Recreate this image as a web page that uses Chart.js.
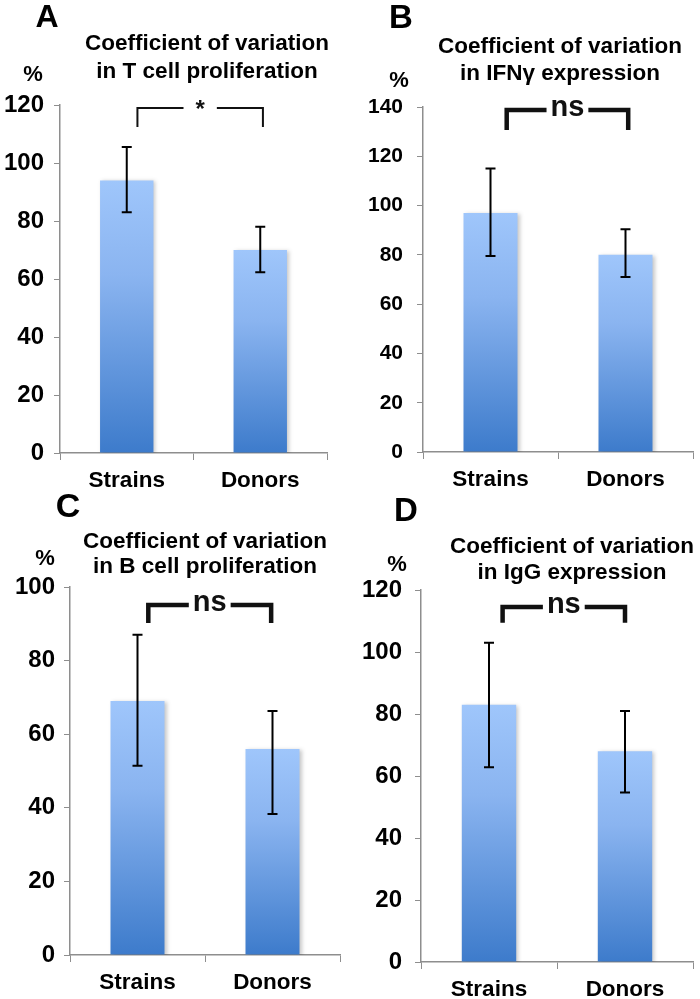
<!DOCTYPE html>
<html>
<head>
<meta charset="utf-8">
<script src="https://cdn.jsdelivr.net/npm/chart.js@4.4.0/dist/chart.umd.min.js"></script>
<style>
  body { margin: 0; background: #fff; }
  #fig { position: relative; width: 700px; height: 999px; }
  .panel { position: absolute; }
</style>
</head>
<body>
<div id="fig">
  <div class="panel" style="left:0;top:0;width:350px;height:490px"><canvas id="chartA"></canvas></div>
  <div class="panel" style="left:350px;top:0;width:350px;height:490px"><canvas id="chartB"></canvas></div>
  <div class="panel" style="left:0;top:490px;width:350px;height:509px"><canvas id="chartC"></canvas></div>
  <div class="panel" style="left:350px;top:490px;width:350px;height:509px"><canvas id="chartD"></canvas></div>
</div>
<script>
// groups on the x axis
const categories = ['Strains', 'Donors'];

// A - T cell proliferation
const tCellCv = [94, 70];
const tCellHigh = [105.5, 78];
const tCellLow = [83, 62.3];
const tCellTicks = [0, 20, 40, 60, 80, 100, 120];

// B - IFNg expression
const ifnCv = [97, 80];
const ifnHigh = [115, 90.4];
const ifnLow = [79.5, 71];
const ifnTicks = [0, 20, 40, 60, 80, 100, 120, 140];

// C - B cell proliferation
const bCellCv = [69, 56];
const bCellHigh = [87, 66.3];
const bCellLow = [51.4, 38.3];
const bCellTicks = [0, 20, 40, 60, 80, 100];

// D - IgG expression
const iggCv = [83, 68];
const iggHigh = [103, 81];
const iggLow = [62.8, 54.7];
const iggTicks = [0, 20, 40, 60, 80, 100, 120];

const FONT = "'Liberation Sans', Arial, sans-serif";
const AXIS_GREY = '#8e8e8e';

// vertical gradient per bar, light at the top, dark at the base
function barGradient(context) {
  const chart = context.chart;
  const y = chart.scales.y;
  if (!chart.chartArea || !y) return '#6a9be0';
  const top = y.getPixelForValue(context.dataset.data[context.dataIndex]);
  const base = y.getPixelForValue(0);
  const g = chart.ctx.createLinearGradient(0, top, 0, base);
  g.addColorStop(0, '#9fc6fb');
  g.addColorStop(0.35, '#8ab4f0');
  g.addColorStop(1, '#3d7bcb');
  return g;
}

const barShadow = {
  id: 'barShadow',
  beforeDatasetDraw(chart) {
    const ctx = chart.ctx;
    ctx.save();
    ctx.shadowColor = 'rgba(0,0,0,0.22)';
    ctx.shadowBlur = 4;
    ctx.shadowOffsetX = 2;
    ctx.shadowOffsetY = 1;
  },
  afterDatasetDraw(chart) {
    chart.ctx.restore();
  }
};

const errorBars = {
  id: 'errorBars',
  afterDatasetsDraw(chart, args, opts) {
    const ctx = chart.ctx;
    const y = chart.scales.y;
    const meta = chart.getDatasetMeta(0);
    ctx.save();
    ctx.strokeStyle = '#000';
    ctx.lineWidth = 2;
    meta.data.forEach((bar, i) => {
      const hi = y.getPixelForValue(opts.high[i]);
      const lo = y.getPixelForValue(opts.low[i]);
      ctx.beginPath();
      ctx.moveTo(bar.x, hi);
      ctx.lineTo(bar.x, lo);
      ctx.moveTo(bar.x - 5, hi);
      ctx.lineTo(bar.x + 5, hi);
      ctx.moveTo(bar.x - 5, lo);
      ctx.lineTo(bar.x + 5, lo);
      ctx.stroke();
    });
    ctx.restore();
  }
};

// significance bracket between the two bars
const bracket = {
  id: 'bracket',
  afterDraw(chart, args, opts) {
    const ctx = chart.ctx;
    const x = chart.scales.x;
    const y = chart.scales.y;
    const x1 = x.getPixelForValue(opts.from);
    const x2 = x.getPixelForValue(opts.to);
    const yTop = y.getPixelForValue(opts.top);
    const yBot = y.getPixelForValue(opts.bottom);
    const mid = (x1 + x2) / 2;
    ctx.save();
    ctx.font = 'bold ' + opts.fontSize + 'px ' + FONT;
    const w = ctx.measureText(opts.label).width;
    ctx.strokeStyle = '#111';
    ctx.lineWidth = opts.lineWidth;
    ctx.lineCap = 'butt';
    ctx.beginPath();
    ctx.moveTo(x1, yBot);
    ctx.lineTo(x1, yTop);
    ctx.lineTo(mid - w / 2 - opts.gap, yTop);
    ctx.moveTo(mid + w / 2 + opts.gap, yTop);
    ctx.lineTo(x2, yTop);
    ctx.lineTo(x2, yBot);
    ctx.stroke();
    ctx.fillStyle = '#111';
    ctx.textAlign = 'center';
    ctx.textBaseline = 'middle';
    ctx.fillText(opts.label, mid, yTop + opts.labelShift);
    ctx.restore();
  }
};

// panel letter, unit and two-line title
const panelText = {
  id: 'panelText',
  afterDraw(chart, args, opts) {
    const ctx = chart.ctx;
    ctx.save();
    ctx.fillStyle = '#000';
    ctx.textAlign = 'center';
    ctx.textBaseline = 'middle';
    ctx.font = 'bold ' + opts.letterSize + 'px ' + FONT;
    ctx.fillText(opts.letter, opts.letterX, opts.letterY);
    ctx.font = 'bold 22px ' + FONT;
    ctx.fillText('%', opts.unitX, opts.unitY);
    ctx.font = 'bold 22.5px ' + FONT;
    opts.title.forEach((line, i) => {
      ctx.fillText(line, opts.titleX, opts.titleY[i]);
    });
    ctx.restore();
  }
};

function makePanel(id, p) {
  new Chart(document.getElementById(id), {
    type: 'bar',
    data: {
      labels: categories,
      datasets: [{
        data: p.values,
        backgroundColor: barGradient,
        borderWidth: 0,
        categoryPercentage: 1,
        barPercentage: 0.4
      }]
    },
    options: {
      responsive: true,
      maintainAspectRatio: false,
      animation: false,
      layout: { padding: p.padding },
      plugins: {
        legend: { display: false },
        tooltip: { enabled: false },
        errorBars: { high: p.high, low: p.low },
        bracket: p.bracket,
        panelText: p.text
      },
      scales: {
        x: {
          afterFit: (scale) => { scale.height = 34; },
          grid: {
            offset: true,
            drawOnChartArea: false,
            drawTicks: true,
            tickLength: 7,
            color: AXIS_GREY
          },
          border: { color: AXIS_GREY, width: 1.5 },
          ticks: {
            color: '#000',
            padding: 7,
            font: { family: FONT, size: 22.5, weight: 'bold' }
          }
        },
        y: {
          min: 0,
          max: p.ticks[p.ticks.length - 1],
          afterFit: (scale) => { scale.width = p.yWidth; },
          afterBuildTicks: (scale) => { scale.ticks = p.ticks.map(v => ({ value: v })); },
          grid: {
            drawOnChartArea: false,
            drawTicks: true,
            tickLength: 6,
            color: AXIS_GREY
          },
          border: { color: AXIS_GREY, width: 1.5 },
          ticks: {
            color: '#000',
            padding: p.tickPad,
            font: { family: FONT, size: p.tickSize, weight: 'bold' }
          }
        }
      }
    },
    plugins: [barShadow, errorBars, bracket, panelText]
  });
}

makePanel('chartA', {
  values: tCellCv, high: tCellHigh, low: tCellLow, ticks: tCellTicks,
  yWidth: 60, tickPad: 10, tickSize: 24,
  padding: { left: 0, top: 105, right: 23, bottom: 3 },
  bracket: { from: 0.08, to: 1.02, top: 119, bottom: 112.4, label: '*', fontSize: 24,
             lineWidth: 2, gap: 12, labelShift: 2 },
  text: { letter: 'A', letterSize: 32, letterX: 47, letterY: 18, unitX: 33, unitY: 75,
          title: ['Coefficient of variation', 'in T cell proliferation'], titleX: 207, titleY: [44, 72] }
});

makePanel('chartB', {
  values: ifnCv, high: ifnHigh, low: ifnLow, ticks: ifnTicks,
  yWidth: 73, tickPad: 14, tickSize: 21,
  padding: { left: 0, top: 107, right: 7, bottom: 4 },
  bracket: { from: 0.12, to: 1.02, top: 138.8, bottom: 130.7, label: 'ns', fontSize: 29,
             lineWidth: 4.5, gap: 4, labelShift: -2 },
  text: { letter: 'B', letterSize: 33, letterX: 51, letterY: 19, unitX: 49, unitY: 81,
          title: ['Coefficient of variation', 'in IFN\u03b3 expression'], titleX: 210, titleY: [47, 74] }
});

makePanel('chartC', {
  values: bCellCv, high: bCellHigh, low: bCellLow, ticks: bCellTicks,
  yWidth: 70, tickPad: 9, tickSize: 24,
  padding: { left: 0, top: 97, right: 10, bottom: 10 },
  bracket: { from: 0.08, to: 0.99, top: 95.1, bottom: 90.2, label: 'ns', fontSize: 29,
             lineWidth: 4.5, gap: 4, labelShift: -2 },
  text: { letter: 'C', letterSize: 34, letterX: 68, letterY: 18, unitX: 45, unitY: 69,
          title: ['Coefficient of variation', 'in B cell proliferation'], titleX: 205, titleY: [52, 77] }
});

makePanel('chartD', {
  values: iggCv, high: iggHigh, low: iggLow, ticks: iggTicks,
  yWidth: 71, tickPad: 13, tickSize: 24,
  padding: { left: 0, top: 100, right: 7, bottom: 3 },
  bracket: { from: 0.1, to: 1.0, top: 114.5, bottom: 109.4, label: 'ns', fontSize: 29,
             lineWidth: 4.5, gap: 4, labelShift: -2 },
  text: { letter: 'D', letterSize: 33, letterX: 56, letterY: 22, unitX: 47, unitY: 75,
          title: ['Coefficient of variation', 'in IgG expression'], titleX: 222, titleY: [57, 83] }
});
</script>
</body>
</html>
